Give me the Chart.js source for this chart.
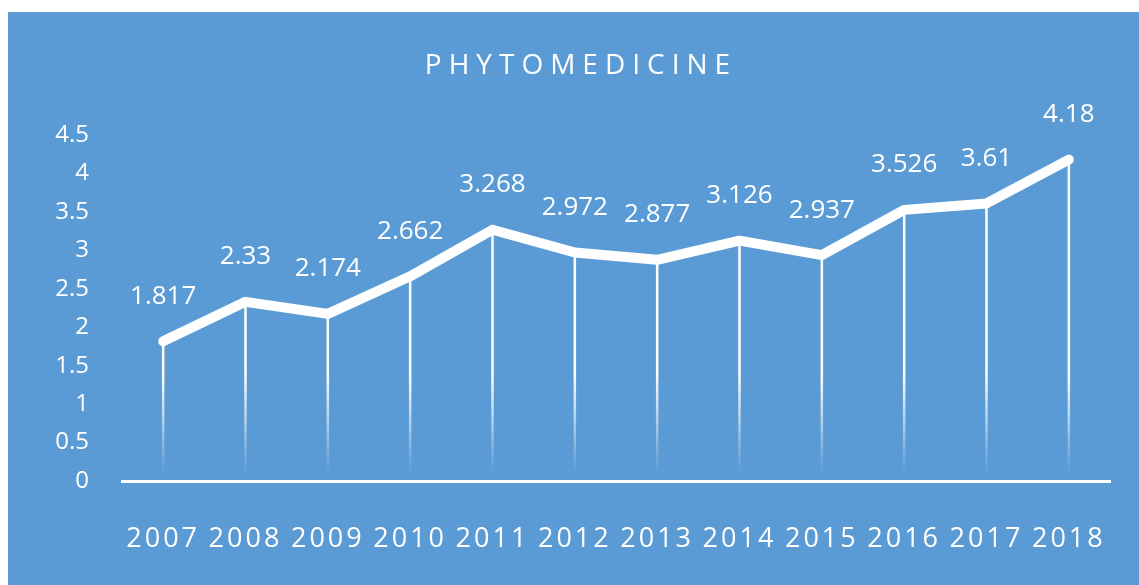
<!DOCTYPE html>
<html>
<head>
<meta charset="utf-8">
<script src="https://cdn.jsdelivr.net/npm/chart.js@4/dist/chart.umd.min.js"></script>
<style>
    html, body { margin: 0; padding: 0; background: #ffffff; }
    #wrap { position: absolute; left: 8px; top: 12px; width: 1131px; height: 573px; background: #5b9bd5; }
</style>
</head>
<body>
<div id="wrap"><canvas id="phytoChart" width="1131" height="573"></canvas></div>
<script>
const years = ["2007", "2008", "2009", "2010", "2011", "2012", "2013", "2014", "2015", "2016", "2017", "2018"];
const impactFactor = [1.817, 2.33, 2.174, 2.662, 3.268, 2.972, 2.877, 3.126, 2.937, 3.526, 3.61, 4.18];
const chartTitle = "PHYTOMEDICINE";

const FONT = "'Open Sans', 'DejaVu Sans', sans-serif";

// letter spacing for title and year labels (canvas letterSpacing)
const spacingPatch = {
    id: "spacingPatch",
    beforeDraw(chart) {
        if (chart._spacingDone) return;
        chart._spacingDone = true;
        const ctx = chart.ctx;
        const xs = chart.scales.x;
        const origLabels = xs.drawLabels;
        xs.drawLabels = function (area) {
            ctx.save();
            ctx.letterSpacing = "3px";
            origLabels.call(this, area);
            ctx.restore();
        };
        const tb = chart.titleBlock;
        if (tb) {
            const origDraw = tb.draw;
            tb.draw = function () {
                ctx.save();
                ctx.letterSpacing = "7px";
                ctx.translate(22, 0); // title sits a bit right of the canvas middle
                origDraw.apply(this, arguments);
                ctx.restore();
            };
        }
    }
};

// fading white drop lines from each point to the axis + value labels
const dropLines = {
    id: "dropLines",
    beforeDatasetsDraw(chart) {
        const ctx = chart.ctx;
        const y = chart.scales.y;
        const meta = chart.getDatasetMeta(0);
        const yFull = y.getPixelForValue(1.4);
        const yNone = y.getPixelForValue(0.1);
        const grad = ctx.createLinearGradient(0, yFull, 0, yNone);
        grad.addColorStop(0, "rgba(255,255,255,1)");
        grad.addColorStop(1, "rgba(255,255,255,0)");
        ctx.save();
        ctx.strokeStyle = grad;
        ctx.lineWidth = 2.5;
        meta.data.forEach(pt => {
            ctx.beginPath();
            ctx.moveTo(pt.x, pt.y);
            ctx.lineTo(pt.x, y.getPixelForValue(0));
            ctx.stroke();
        });
        ctx.restore();
    },
    afterDatasetsDraw(chart) {
        const ctx = chart.ctx;
        const meta = chart.getDatasetMeta(0);
        ctx.save();
        ctx.fillStyle = "#ffffff";
        ctx.font = "26px " + FONT;
        ctx.textAlign = "center";
        ctx.textBaseline = "middle";
        meta.data.forEach((pt, i) => {
            ctx.fillText(String(impactFactor[i]), pt.x, pt.y - 45);
        });
        ctx.restore();
    }
};

new Chart(document.getElementById("phytoChart"), {
    type: "line",
    data: {
        labels: years,
        datasets: [{
            data: impactFactor,
            borderColor: "#ffffff",
            borderWidth: 10,
            borderCapStyle: "round",
            borderJoinStyle: "round",
            pointRadius: 0,
            fill: false,
            tension: 0,
            clip: false
        }]
    },
    options: {
        responsive: false,
        animation: false,
        layout: { padding: { left: 0, right: 29, top: 0, bottom: 0 } },
        plugins: {
            legend: { display: false },
            tooltip: { enabled: false },
            title: {
                display: true,
                text: chartTitle,
                color: "#ffffff",
                font: { family: FONT, size: 28, weight: "normal", lineHeight: 1.2 },
                padding: { top: 37, bottom: 52.4 }
            }
        },
        scales: {
            x: {
                offset: true,
                grid: { display: false },
                border: { display: true, color: "#ffffff", width: 3 },
                ticks: {
                    color: "#ffffff",
                    font: { family: FONT, size: 27, lineHeight: 1.2 },
                    padding: 34,
                    autoSkip: false,
                    maxRotation: 0
                },
                afterFit(scale) { scale.height = 104; }
            },
            y: {
                min: 0,
                max: 4.5,
                grid: { display: false },
                border: { display: false },
                ticks: {
                    stepSize: 0.5,
                    color: "#ffffff",
                    font: { family: FONT, size: 24 },
                    padding: 25,
                    callback: v => String(v)
                },
                afterFit(scale) { scale.width = 114; }
            }
        }
    },
    plugins: [spacingPatch, dropLines]
});
</script>
</body>
</html>
